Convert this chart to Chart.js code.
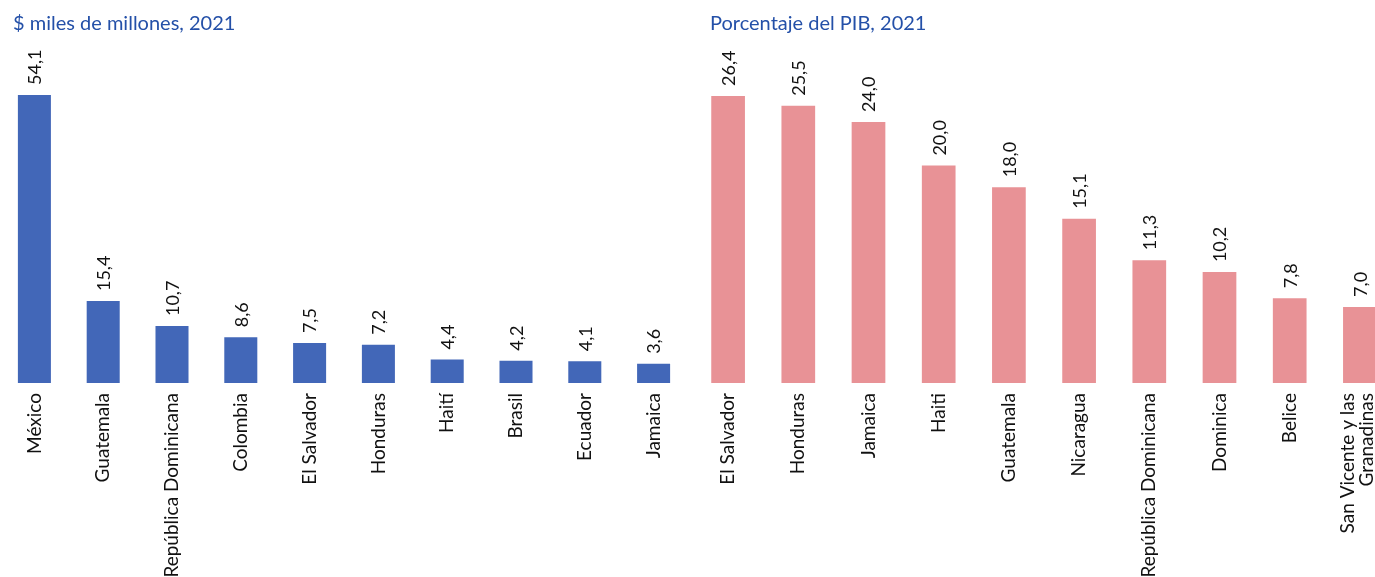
<!DOCTYPE html>
<html>
<head>
<meta charset="utf-8">
<script src="https://cdn.jsdelivr.net/npm/chart.js@4"></script>
<style>
  html, body { margin: 0; padding: 0; width: 1375px; height: 577px; overflow: hidden; background: #fff; }
  .panel { position: absolute; top: 0; height: 577px; }
  .ttl { position: absolute; top: 10px; font-family: Lato, sans-serif; font-size: 20px; color: #2450a8; white-space: nowrap; }
</style>
</head>
<body>
<div class="panel" style="left:0;width:688px"><canvas id="leftChart" width="688" height="577"></canvas></div>
<div class="panel" style="left:693px;width:702px"><canvas id="rightChart" width="702" height="577"></canvas></div>
<div class="ttl" style="left:13px">$ miles de millones, 2021</div>
<div class="ttl" style="left:710px">Porcentaje del PIB, 2021</div>
<script>
// datos
var paisesMonto = ['México', 'Guatemala', 'República Dominicana', 'Colombia', 'El Salvador', 'Honduras', 'Haití', 'Brasil', 'Ecuador', 'Jamaica'];
var monto = [54.1, 15.4, 10.7, 8.6, 7.5, 7.2, 4.4, 4.2, 4.1, 3.6];

var paisesPib = ['El Salvador', 'Honduras', 'Jamaica', 'Haiti', 'Guatemala', 'Nicaragua', 'República Dominicana', 'Dominica', 'Belice', ['San Vicente y las', 'Granadinas']];
var pib = [26.4, 25.5, 24.0, 20.0, 18.0, 15.1, 11.3, 10.2, 7.8, 7.0];

var fuente = 'Lato, sans-serif';

// etiqueta de valor girada sobre cada barra
var valorArriba = {
  id: 'valorArriba',
  afterDatasetsDraw: function(chart) {
    var ctx = chart.ctx;
    var meta = chart.getDatasetMeta(0);
    var vals = chart.data.datasets[0].data;
    ctx.save();
    ctx.font = '18px ' + fuente;
    ctx.fillStyle = '#111';
    ctx.textAlign = 'left';
    ctx.textBaseline = 'middle';
    meta.data.forEach(function(bar, i) {
      ctx.save();
      ctx.translate(bar.x, bar.y - 10);
      ctx.rotate(-Math.PI / 2);
      ctx.fillText(vals[i].toFixed(1).replace('.', ','), 0, 1);
      ctx.restore();
    });
    ctx.restore();
  }
};

// centrar las etiquetas de dos líneas sobre su barra
var centrarMultilinea = {
  id: 'centrarMultilinea',
  beforeDraw: function(chart) {
    var items = chart.scales.x.getLabelItems();
    items.forEach(function(it) {
      if (Array.isArray(it.label) && !it._movido) {
        it.options.translation[0] -= 12;
        it._movido = true;
      }
    });
  }
};

function config(labels, data, color, maxY) {
  return {
    type: 'bar',
    data: {
      labels: labels,
      datasets: [{
        data: data,
        backgroundColor: color,
        categoryPercentage: 1,
        barPercentage: 0.48
      }]
    },
    options: {
      responsive: false,
      animation: false,
      layout: { padding: { top: 40, left: 0, right: 0, bottom: 0 } },
      plugins: { legend: { display: false }, tooltip: { enabled: false } },
      scales: {
        x: {
          grid: { display: false, drawTicks: false },
          border: { display: false },
          ticks: {
            autoSkip: false,
            maxRotation: 90,
            minRotation: 90,
            padding: 10,
            color: '#111',
            font: { family: fuente, size: 19, lineHeight: 1.0 }
          },
          afterFit: function(axis) {
            axis.height = 194;
            axis.paddingLeft = 0;
            axis.paddingRight = 0;
          }
        },
        y: { display: false, min: 0, max: maxY }
      }
    },
    plugins: [valorArriba, centrarMultilinea]
  };
}

new Chart(document.getElementById('leftChart'), config(paisesMonto, monto, '#4267b8', 64.43));
new Chart(document.getElementById('rightChart'), config(paisesPib, pib, '#e89296', 31.55));
</script>
</body>
</html>
